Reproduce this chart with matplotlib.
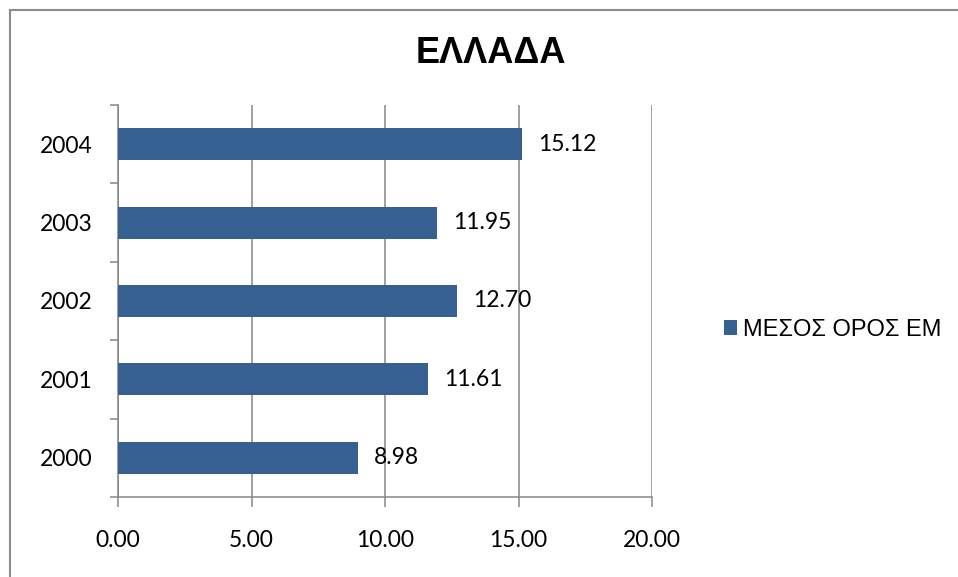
import matplotlib
matplotlib.use("Agg")
import matplotlib.pyplot as plt
from matplotlib.lines import Line2D
from matplotlib.ticker import FixedLocator

# Data
years = ["2000", "2001", "2002", "2003", "2004"]
values = [8.98, 11.61, 12.70, 11.95, 15.12]
x_ticks = [0, 5, 10, 15, 20]
series_name = "ΜΕΣΟΣ ΟΡΟΣ ΕΜ"
title = "ΕΛΛΑΔΑ"

W, H = 958, 577
DPI = 100
bar_color = "#376092"
grid_color = "#868686"
num_font = "Lato"
txt_font = "Liberation Sans"

fig = plt.figure(figsize=(W / DPI, H / DPI), dpi=DPI)
fig.patch.set_facecolor("white")

# Chart frame (left and top edges)
fig.add_artist(Line2D([9.5 / W, 9.5 / W], [0, 1 - 9.5 / H], transform=fig.transFigure,
                      color="#8c8c8c", lw=1.5))
fig.add_artist(Line2D([9.5 / W, 1], [1 - 9.5 / H, 1 - 9.5 / H], transform=fig.transFigure,
                      color="#8c8c8c", lw=1.5))

left, right = 118 / W, 652 / W
top, bottom = 1 - 105 / H, 1 - 497 / H
ax = fig.add_axes([left, bottom, right - left, top - bottom])

pos = list(range(len(years)))
bars = ax.barh(pos, values, height=0.41, color=bar_color, label=series_name, zorder=3)

ax.set_xlim(x_ticks[0], x_ticks[-1])
ax.set_ylim(-0.5, len(years) - 0.5)

ax.set_xticks(x_ticks)
ax.set_xticklabels([f"{v:.2f}" for v in x_ticks], fontfamily=num_font, fontsize=16.5)
ax.set_yticks(pos)
ax.set_yticklabels(years, fontfamily=num_font, fontsize=16.5)
ax.yaxis.set_minor_locator(FixedLocator([p - 0.5 for p in range(len(years) + 1)]))

ax.tick_params(axis="x", which="major", direction="out", length=7.2, width=1.1,
               color=grid_color, pad=16.5)
ax.tick_params(axis="y", which="major", length=0, pad=18.5)
ax.tick_params(axis="y", which="minor", direction="out", length=5.8, width=1.1,
               color=grid_color)

ax.grid(axis="x", color=grid_color, lw=1.1, zorder=0)
for s in ["top", "right"]:
    ax.spines[s].set_visible(False)
for s in ["left", "bottom"]:
    ax.spines[s].set_color(grid_color)
    ax.spines[s].set_linewidth(1.1)

labels = ax.bar_label(bars, labels=[f"{v:.2f}" for v in values], padding=11.5,
                      fontfamily=num_font, fontsize=16.5, color="black")

fig.text(491 / W, 1 - 63 / H, title, ha="center", va="baseline",
         fontfamily=txt_font, fontweight="bold", fontsize=26)

fig.legend(handles=[bars], labels=[series_name], loc="center left",
           bbox_to_anchor=(724 / W, 1 - 330 / H), frameon=False,
           borderpad=0, borderaxespad=0, handlelength=0.57, handleheight=0.57,
           handletextpad=0.22, prop={"family": txt_font, "size": 17})

fig.savefig("out.png", dpi=DPI, facecolor="white")
